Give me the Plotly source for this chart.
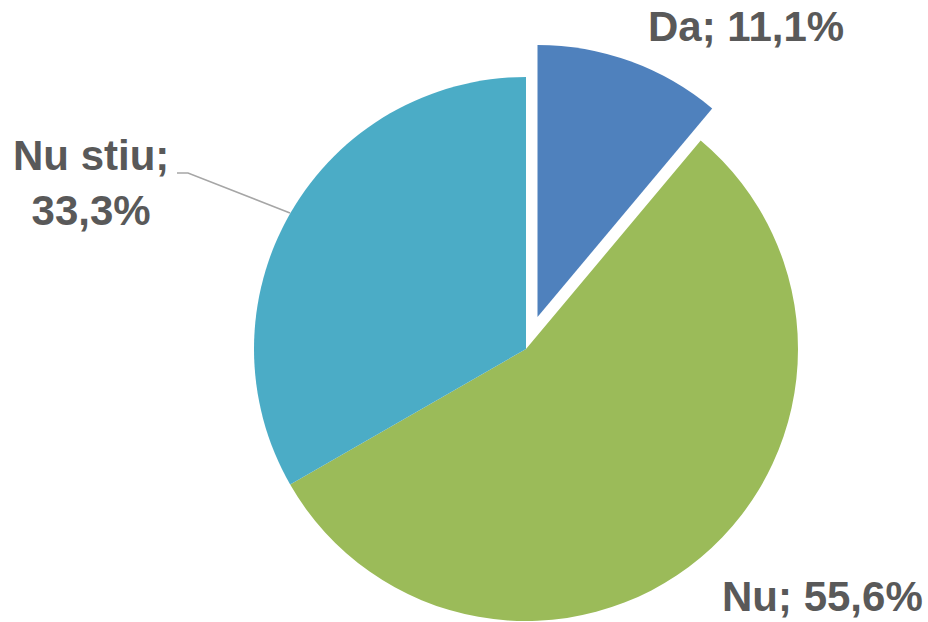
import plotly.graph_objects as go

# Survey answers and their shares (%)
labels = ["Da", "Nu", "Nu stiu"]
values = [11.1, 55.6, 33.3]
colors = ["#4F81BD", "#9BBB59", "#4BACC6"]

W, H = 928, 622
cx, cy, r = 526, 349, 272          # pie centre / radius in px
explode = (11.5, -32)              # offset of the exploded "Da" slice in px


def dom(dx=0.0, dy=0.0):
    x0 = (cx - r + dx) / W
    x1 = (cx + r + dx) / W
    y0 = (H - (cy + r + dy)) / H
    y1 = (H - (cy - r + dy)) / H
    return dict(x=[x0, x1], y=[y0, y1])


def fmt(v):
    return f"{v:.1f}".replace(".", ",") + "%"


transparent = "rgba(0,0,0,0)"
common = dict(
    labels=labels, values=values, sort=False, direction="clockwise",
    rotation=0, textinfo="none", hoverinfo="skip", showlegend=False,
)

fig = go.Figure()
# main pie (Nu, Nu stiu)
fig.add_trace(go.Pie(
    **common, domain=dom(),
    marker=dict(colors=[transparent, colors[1], colors[2]],
                line=dict(width=0)),
))
# exploded slice (Da)
fig.add_trace(go.Pie(
    **common, domain=dom(*explode),
    marker=dict(colors=[colors[0], transparent, transparent],
                line=dict(width=0)),
))

font = dict(family="Liberation Sans, Arial, sans-serif", size=42, color="#595959")
ann = [
    (f"<b>{labels[0]}; {fmt(values[0])}</b>", 746, 26),
    (f"<b>{labels[1]}; {fmt(values[1])}</b>", 822, 596),
    (f"<b>{labels[2]};<br>{fmt(values[2])}</b>", 91, 183),
]
for text, x, y in ann:
    fig.add_annotation(text=text, x=x / W, y=1 - y / H, xref="paper", yref="paper",
                       xanchor="center", yanchor="middle", showarrow=False,
                       font=font, align="center")

# leader line for the "Nu stiu" label
fig.add_shape(type="path", xref="paper", yref="paper",
              path=f"M {177/W},{1-173/H} L {188/W},{1-173/H} L {290/W},{1-213/H}",
              line=dict(color="#A6A6A6", width=1.5))

fig.update_layout(
    width=W, height=H, margin=dict(l=0, r=0, t=0, b=0),
    paper_bgcolor="white", plot_bgcolor="white",
)

fig.write_html("out.html")
